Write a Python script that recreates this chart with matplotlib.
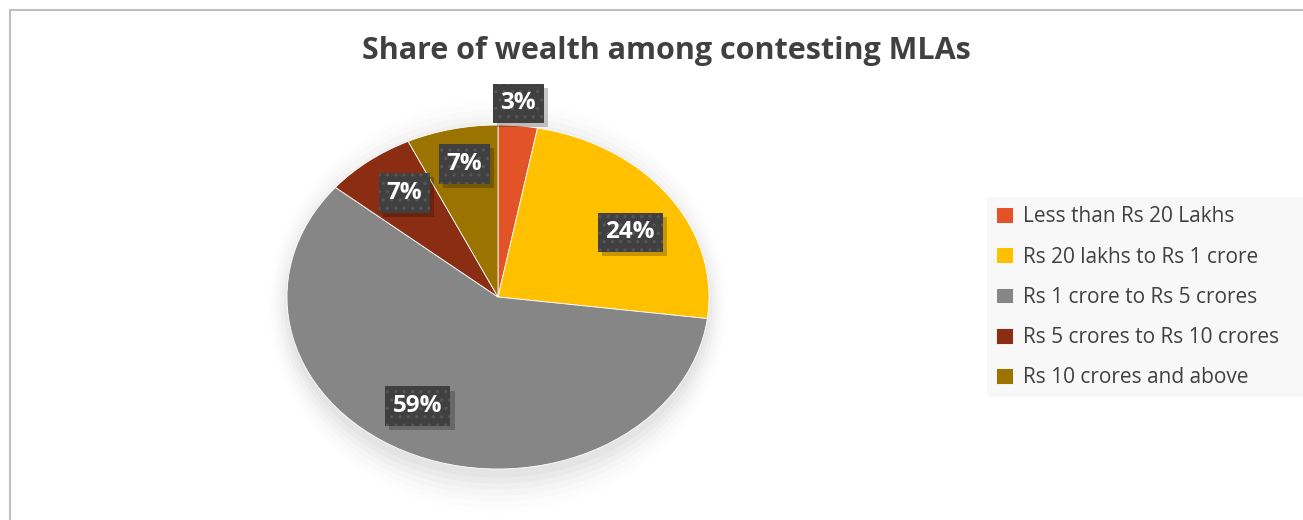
import numpy as np
import matplotlib.pyplot as plt
from matplotlib.lines import Line2D
from matplotlib.patches import Ellipse
import matplotlib.patheffects as pe

plt.rcParams['font.family'] = ['Open Sans', 'DejaVu Sans']
plt.rcParams['hatch.linewidth'] = 1.2

# data
categories = ['Less than Rs 20 Lakhs', 'Rs 20 lakhs to Rs 1 crore',
              'Rs 1 crore to Rs 5 crores', 'Rs 5 crores to Rs 10 crores',
              'Rs 10 crores and above']
shares = [3, 24, 59, 7, 7]
colors = ['#e25327', '#ffc000', '#868686', '#8a2d13', '#9a7300']
# label placement (radius fraction, angle shift in degrees) like Excel's best fit
label_dist = [1.13, 0.73, 0.74, 0.75, 0.79]
label_shift = [0.5, -5, -7.5, -1.5, -1]


class FlatShadow(pe.AbstractPathEffect):
    """plain drop shadow without the hatch of the patch"""
    def __init__(self, offset=(3, -3), alpha=0.25):
        super().__init__(offset)
        self.alpha = alpha

    def draw_path(self, renderer, gc, tpath, affine, rgbFace):
        gc0 = renderer.new_gc()
        gc0.copy_properties(gc)
        gc0.set_hatch(None)
        gc0.set_linewidth(0)
        gc0.set_alpha(self.alpha)
        renderer.draw_path(gc0, tpath, affine + self._offset_transform(renderer),
                           (0, 0, 0))
        gc0.restore()


W, H = 1303, 520
fig = plt.figure(figsize=(W / 100, H / 100), dpi=100)
fig.patch.set_facecolor('white')

# chart frame (gray top and left border)
fig.add_artist(Line2D([10 / W, 1], [1 - 10 / H, 1 - 10 / H], color='#bfbfbf', lw=1.5))
fig.add_artist(Line2D([10 / W, 10 / W], [0, 1 - 10 / H], color='#bfbfbf', lw=1.5))

fig.text(666 / W, 1 - 51 / H, 'Share of wealth among contesting MLAs',
         ha='center', va='center', fontsize=22, fontweight='bold', color='#404040')

cx, cy, rx, ry = 498, 297, 211, 172
ax = fig.add_axes([(cx - rx) / W, (H - cy - ry) / H, 2 * rx / W, 2 * ry / H])

# soft shadow behind the pie
for i, a in enumerate(np.linspace(0.025, 0.005, 7)):
    ax.add_patch(Ellipse((0, -0.05), 2 + 0.03 * i, 2.0 + 0.07 * i,
                         facecolor='black', edgecolor='none', alpha=a,
                         zorder=0, clip_on=False))

wedges, _ = ax.pie(shares, colors=colors, startangle=90, counterclock=False,
                   radius=1, wedgeprops=dict(linewidth=0.6, edgecolor='white'))
ax.set_aspect('auto')
ax.set_xlim(-1, 1)
ax.set_ylim(-1, 1)
ax.axis('off')
for w in wedges:
    w.set_zorder(2)

for w, v, d, s in zip(wedges, shares, label_dist, label_shift):
    ang = np.deg2rad((w.theta1 + w.theta2) / 2 + s)
    x, y = d * np.cos(ang), d * np.sin(ang)
    t = ax.text(x, y, f'{v}%', ha='center', va='center', fontsize=17.5,
                fontweight='bold', color='white', zorder=4,
                bbox=dict(boxstyle='square,pad=0.32', facecolor='#404040',
                          edgecolor='#555555', linewidth=0, hatch='..'))
    t.get_bbox_patch().set_path_effects([FlatShadow((3, -3), 0.22), pe.Normal()])

leg = fig.legend(wedges, categories, loc='upper left',
                 bbox_to_anchor=(987 / W, 1 - 197 / H, 1 - 987 / W + 0.01, 0),
                 mode='expand', frameon=True,
                 fontsize=15, handlelength=0.8, handleheight=0.8,
                 handletextpad=0.5, labelspacing=0.92, borderpad=0.45,
                 borderaxespad=0)
leg.get_frame().set_facecolor('#f7f7f7')
leg.get_frame().set_edgecolor('none')
leg.get_frame().set_boxstyle('square', pad=0)
for t in leg.get_texts():
    t.set_color('#404040')

fig.savefig('out.png', dpi=100, facecolor='white')
